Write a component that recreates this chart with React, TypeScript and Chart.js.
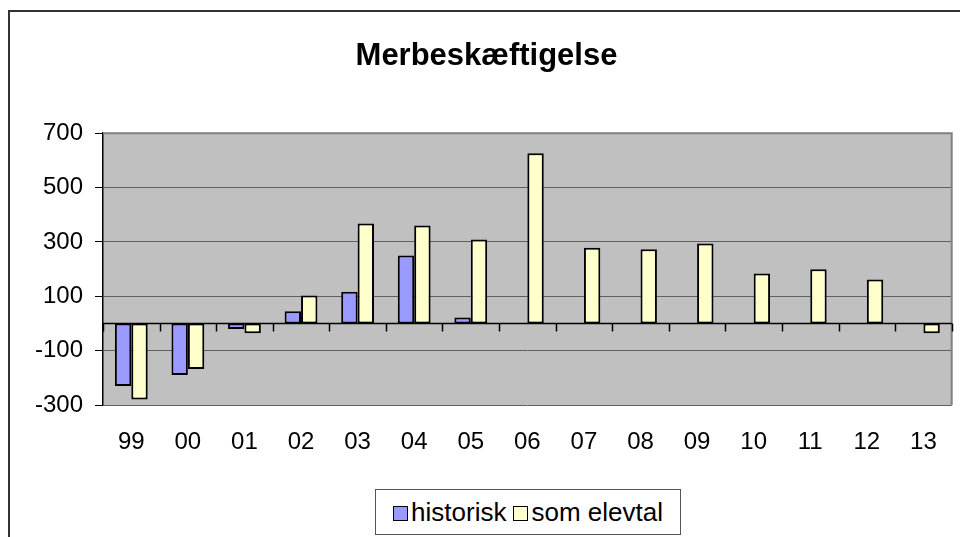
import React, { useEffect, useRef } from 'react';
import { Chart, registerables } from 'chart.js';

Chart.register(...registerables);

const chartTitle = 'Merbeskæftigelse';
const categories = ['99', '00', '01', '02', '03', '04', '05', '06', '07', '08', '09', '10', '11', '12', '13'];
const historisk = [-230, -190, -20, 45, 117, 250, 22, null, null, null, null, null, null, null, null];
const somElevtal = [-280, -168, -36, 103, 368, 360, 309, 626, 279, 273, 294, 184, 199, 162, -36];
const seriesNames = ['historisk', 'som elevtal'];
const seriesColors = ['#9999FF', '#FFFFCC'];
const yTicks = [-300, -100, 100, 300, 500, 700];
const yMin = -300;
const yMax = 700;

const FONT = 'Arial, "Liberation Sans", sans-serif';

const plotBgPlugin = {
  id: 'plotBg',
  beforeDraw(chart: any) {
    const { ctx, chartArea } = chart;
    ctx.save();
    ctx.fillStyle = '#C0C0C0';
    ctx.fillRect(chartArea.left, chartArea.top, chartArea.right - chartArea.left, chartArea.bottom - chartArea.top);
    ctx.restore();
  },
  afterDraw(chart: any) {
    const { ctx, chartArea, scales } = chart;
    const x = scales.x;
    const y = scales.y;
    ctx.save();
    ctx.strokeStyle = '#808080';
    ctx.lineWidth = 2;
    ctx.beginPath();
    ctx.moveTo(chartArea.left, chartArea.top);
    ctx.lineTo(chartArea.right, chartArea.top);
    ctx.lineTo(chartArea.right, chartArea.bottom);
    ctx.stroke();
    const y0 = Math.round(y.getPixelForValue(0)) + 0.5;
    ctx.strokeStyle = '#000';
    ctx.lineWidth = 1.5;
    ctx.beginPath();
    ctx.moveTo(chartArea.left, y0);
    ctx.lineTo(chartArea.right, y0);
    const step = x.getPixelForValue(1) - x.getPixelForValue(0);
    for (let i = 0; i <= categories.length; i++) {
      const bx = Math.round(x.getPixelForValue(0) - step / 2 + i * step) + 0.5;
      ctx.moveTo(bx, y0);
      ctx.lineTo(bx, y0 + 8);
    }
    ctx.stroke();
    ctx.restore();
  },
};

function ChartCanvas() {
  const ref = useRef<HTMLCanvasElement | null>(null);
  useEffect(() => {
    if (!ref.current) return;
    const chart = new Chart(ref.current, {
      type: 'bar',
      data: {
        labels: categories,
        datasets: [
          {
            label: seriesNames[0],
            data: historisk,
            backgroundColor: seriesColors[0],
            borderColor: '#000',
            borderWidth: 2,
            borderSkipped: false,
            categoryPercentage: 0.58,
            barPercentage: 1,
          },
          {
            label: seriesNames[1],
            data: somElevtal,
            backgroundColor: seriesColors[1],
            borderColor: '#000',
            borderWidth: 2,
            borderSkipped: false,
            categoryPercentage: 0.58,
            barPercentage: 1,
          },
        ],
      } as any,
      options: {
        responsive: false,
        animation: false,
        devicePixelRatio: 1,
        layout: { padding: { left: 20, right: 7, top: 0, bottom: 72 } },
        plugins: {
          legend: { display: false },
          tooltip: { enabled: false },
          title: {
            display: true,
            text: chartTitle,
            color: '#000',
            font: { family: FONT, size: 31, weight: 'bold' },
            padding: { top: 38, bottom: 58 },
          },
        },
        scales: {
          x: {
            grid: { display: false, drawTicks: false, tickLength: 0 },
            border: { display: false },
            ticks: {
              color: '#000',
              font: { family: FONT, size: 24 },
              padding: 23,
              autoSkip: false,
              maxRotation: 0,
            },
            afterFit: (s: any) => {
              s.height = 60;
            },
          },
          y: {
            min: yMin,
            max: yMax,
            afterBuildTicks: (s: any) => {
              s.ticks = yTicks.map((v) => ({ value: v }));
            },
            grid: { color: '#606060', lineWidth: 1, tickLength: 8, tickColor: '#000' },
            border: { display: true, color: '#000', width: 1.5 },
            ticks: {
              color: '#000',
              font: { family: FONT, size: 24 },
              padding: 12,
            },
            afterFit: (s: any) => {
              s.width = 83;
            },
          },
        },
      },
      plugins: [plotBgPlugin],
    });
    return () => chart.destroy();
  }, []);
  return <canvas ref={ref} width={960} height={537} style={{ display: 'block' }} />;
}

export default function App() {
  return (
    <div style={{ position: 'absolute', left: 0, top: 0, width: 960, height: 537, overflow: 'hidden', background: '#fff' }}>
      <ChartCanvas />
      <div
        style={{
          position: 'absolute',
          left: 8,
          top: 10,
          width: 1200,
          height: 1200,
          borderTop: '2px solid #333',
          borderLeft: '2px solid #333',
          pointerEvents: 'none',
        }}
      />
      <div
        style={{
          position: 'absolute',
          left: 375,
          top: 489,
          width: 306,
          height: 46,
          boxSizing: 'border-box',
          border: '1.5px solid #555',
          background: '#fff',
          display: 'flex',
          alignItems: 'center',
          justifyContent: 'center',
          fontFamily: FONT,
          fontSize: 26,
          color: '#000',
          whiteSpace: 'nowrap',
        }}
      >
        {seriesNames.map((name, i) => (
          <span key={name} style={{ marginRight: i === 0 ? 7 : 0, lineHeight: '30px' }}>
            <span
              style={{
                display: 'inline-block',
                width: 13,
                height: 13,
                border: '1.5px solid #000',
                background: seriesColors[i],
                marginRight: 3,
                verticalAlign: 'baseline',
              }}
            />
            {name}
          </span>
        ))}
      </div>
    </div>
  );
}
